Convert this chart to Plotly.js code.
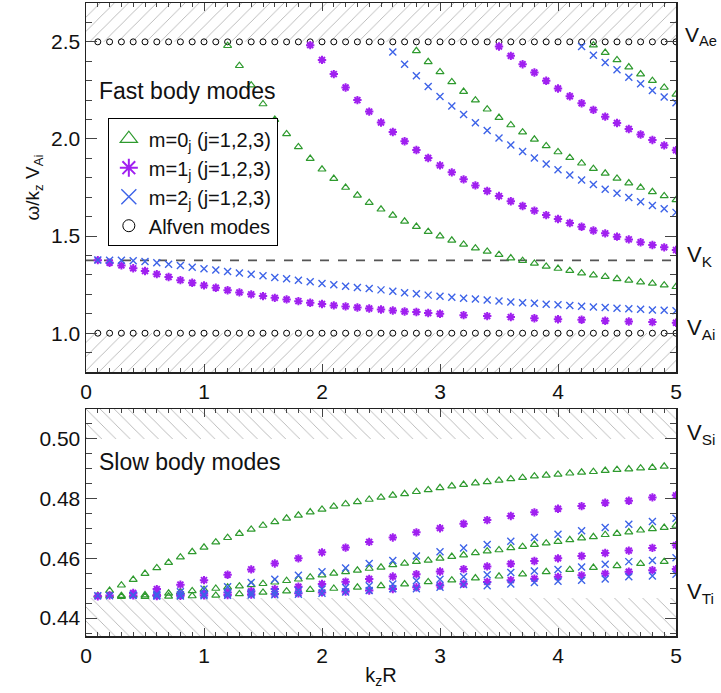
<!DOCTYPE html>
<html>
<head>
<meta charset="utf-8">
<script src="https://cdn.plot.ly/plotly-3.0.1.min.js"></script>
<style>html,body{margin:0;padding:0;background:#fff;}#chart{width:721px;height:693px;}</style>
</head>
<body>
<div id="chart"></div>
<script>
// ---------- characteristic speeds ----------
const vAe = 2.5, vAi = 1.0, vK = 1.375, vSi = 0.50, vTi = 0.4467;
const topRange = [0.8, 2.7];
const botRange = [0.434, 0.51];

// ---------- k_z R sampling ----------
const kFine = [0.1,0.2,0.3,0.4,0.5,0.6,0.7,0.8,0.9,1.0,1.1,1.2,1.3,1.4,1.5,1.6,1.7,1.8,1.9,2.0,
               2.1,2.2,2.3,2.4,2.5,2.6,2.7,2.8,2.9,3.0,3.1,3.2,3.3,3.4,3.5,3.6,3.7,3.8,3.9,4.0,
               4.1,4.2,4.3,4.4,4.5,4.6,4.7,4.8,4.9,5.0];
const kEven = [0.2,0.4,0.6,0.8,1.0,1.2,1.4,1.6,1.8,2.0,2.2,2.4,2.6,2.8,3.0,3.2,3.4,3.6,3.8,4.0,4.2,4.4,4.6,4.8,5.0];
const kOdd  = [0.1,0.3,0.5,0.7,0.9,1.1,1.3,1.5,1.7,1.9,2.1,2.3,2.5,2.7,2.9,3.1,3.3,3.5,3.7,3.9,4.1,4.3,4.5,4.7,4.9];

// ---------- fast body modes ----------
const fastM0J1 = [2.48,2.377,2.277,2.18,2.10,2.026,1.959,1.899,1.844,1.796,1.75,1.71,1.672,1.638,1.607,1.576,1.549,1.523,1.50,1.478,
                  1.457,1.438,1.421,1.404,1.387,1.373,1.359,1.344,1.333,1.322,1.309,1.299,1.291,1.280,1.272,1.263,1.256,1.247,1.239];
const fastM0J2 = [2.454,2.397,2.345,2.294,2.244,2.20,2.153,2.11,2.072,2.035,1.998,1.964,1.933,1.904,1.875,1.847,1.823,1.797,1.773,1.750,1.728,1.707,1.686];
const fastM0J3 = [2.483,2.445,2.407,2.37,2.334,2.30,2.265,2.23];

const fastM1J1k = [0.1,0.2,0.3,0.4,0.5,0.6,0.7,0.8,0.9,1.0,1.1,1.2,1.3,1.4,1.5,1.6,1.7,1.8,1.9,2.0,2.1,2.2,2.3,2.4,2.5,2.6,2.7,2.8,2.9,3.0,
                   3.2,3.4,3.6,3.8,4.0,4.2,4.4,4.6,4.8,5.0];
const fastM1J1 = [1.376,1.363,1.349,1.334,1.32,1.304,1.289,1.273,1.26,1.246,1.234,1.221,1.21,1.2,1.191,1.182,1.174,1.165,1.157,1.15,
                  1.143,1.138,1.132,1.127,1.122,1.117,1.112,1.109,1.104,1.10,1.093,1.088,1.083,1.077,1.072,1.069,1.064,1.06,1.057,1.054];
const fastM1J2 = [2.483,2.407,2.334,2.265,2.20,2.141,2.085,2.036,1.988,1.943,1.902,1.864,1.828,1.792,1.761,1.732,
                  1.706,1.679,1.655,1.631,1.608,1.588,1.567,1.548,1.529,1.514,1.497,1.483,1.468,1.454,1.442,1.428];
const fastM1J3 = [2.476,2.428,2.385,2.342,2.30,2.26,2.22,2.184,2.15,2.115,2.082,2.051,2.023,1.995,1.967,1.942];

const fastM2J1 = [1.377,1.376,1.375,1.373,1.369,1.363,1.355,1.348,1.339,1.332,1.325,1.318,1.31,1.303,1.296,1.287,1.28,1.272,1.265,1.256,
                  1.249,1.242,1.235,1.23,1.223,1.216,1.208,1.203,1.196,1.19,1.185,1.18,1.176,1.171,1.166,1.161,1.157,1.154,1.149,1.146,
                  1.142,1.139,1.135,1.132,1.128,1.126,1.123,1.12,1.118,1.115];
const fastM2J2 = [2.448,2.385,2.325,2.27,2.219,2.17,2.126,2.083,2.043,2.005,1.969,1.935,1.902,1.871,1.842,1.814,1.789,1.765,1.741,1.72,1.699,1.677,1.658,1.641,1.622];
const fastM2J3 = [2.476,2.431,2.394,2.356,2.318,2.284,2.25,2.216,2.186];

// ---------- slow body modes ----------
const slowM0J1 = [0.4476,0.4492,0.4510,0.4529,0.4549,0.4568,0.4586,0.4604,0.4622,0.4637,0.4654,0.4669,0.4683,0.4697,0.4710,0.4722,0.4734,0.4744,0.4755,0.4764,
                  0.4774,0.4782,0.4789,0.4797,0.4804,0.4811,0.4816,0.4823,0.4829,0.4836,0.4842,0.4847,0.4852,0.4856,0.4861,0.4866,0.4870,0.4875,0.4878,0.4881,
                  0.4885,0.4888,0.4890,0.4894,0.4897,0.4899,0.4902,0.4904,0.4908];
const slowM0J2 = [0.4475,0.4475,0.4476,0.4477,0.4480,0.4483,0.4487,0.4491,0.4495,0.4499,0.4503,0.4507,0.4511,0.4515,0.4520,0.4525,0.4530,0.4537,0.4544,
                  0.4550,0.4555,0.4560,0.4566,0.4570,0.4578,0.4583,0.4589,0.4593,0.4600,0.4606,0.4611,0.4618,0.4624,0.4628,0.4635,0.4639,0.4646,0.4651,0.4656,
                  0.4662,0.4668,0.4672,0.4679,0.4683,0.4688,0.4694,0.4699,0.4703,0.4710];
const slowM0J3 = [0.4472,0.4472,0.4473,0.4474,0.4476,0.4481,0.4486,0.4490,0.4495,0.4499,0.4503,0.4508,0.4514,0.4521,0.4527,0.4534,0.4540,0.4547,0.4555,0.4562,0.4569,0.4575,0.4582,0.4589];

const slowJ1k = [0.1,0.2,0.4,0.6,0.8,1.0,1.2,1.4,1.6,1.8,2.0,2.2,2.4,2.6,2.8,3.0,3.2,3.4,3.6,3.8,4.0,4.2,4.4,4.6,4.8,5.0];
const slowM1J1 = [0.4473,0.4476,0.4484,0.4497,0.4512,0.4527,0.4545,0.4563,0.4583,0.4600,0.4620,0.4636,0.4655,0.4670,0.4687,0.4701,0.4716,0.4728,0.4742,0.4754,0.4766,0.4775,0.4786,0.4793,0.4804,0.4811];
const slowM1J2 = [0.4476,0.4477,0.4479,0.4482,0.4486,0.4490,0.4497,0.4505,0.4514,0.4522,0.4531,0.4539,0.4547,0.4556,0.4564,0.4573,0.4582,0.4591,0.4600,0.4608,0.4618,0.4626,0.4635,0.4644];
const slowM1J3 = [0.4474,0.4475,0.4476,0.4477,0.4479,0.4481,0.4483,0.4486,0.4489,0.4492,0.4497,0.4503,0.4509,0.4515,0.4521,0.4527,0.4532,0.4538,0.4543,0.4549,0.4555,0.4560,0.4564];

const slowM2J1 = [0.4475,0.4475,0.4477,0.4481,0.4488,0.4497,0.4505,0.4519,0.4530,0.4543,0.4555,0.4568,0.4583,0.4593,0.4608,0.4622,0.4635,0.4646,0.4657,0.4670,0.4681,0.4692,0.4703,0.4714,0.4723,0.4734];
const slowM2J2 = [0.4476,0.4476,0.4478,0.4480,0.4482,0.4485,0.4488,0.4492,0.4497,0.4502,0.4508,0.4514,0.4525,0.4530,0.4538,0.4545,0.4553,0.4558,0.4563,0.4571,0.4580,0.4589,0.4593,0.4602];
const slowM2J3 = [0.4474,0.4474,0.4475,0.4476,0.4477,0.4478,0.4480,0.4483,0.4487,0.4492,0.4498,0.4498,0.4503,0.4512,0.4508,0.4514,0.4519,0.4523,0.4527,0.4531,0.4538,0.4541,0.4547];

// ---------- labels ----------
const legendLabels = ['m=0<sub>j</sub> (j=1,2,3)', 'm=1<sub>j</sub> (j=1,2,3)', 'm=2<sub>j</sub> (j=1,2,3)', 'Alfven modes'];

// ---------- styles ----------
const GREEN = '#2e9a2e', PURPLE = '#a020f0', BLUE = '#3d63e8', BLACK = '#000000';
const sty = {
  m0: {symbol:'triangle-up-open', size:7, color:GREEN, line:{color:GREEN, width:1.2}},
  m1: {symbol:'asterisk-open', size:7, color:PURPLE, line:{color:PURPLE, width:2}},
  m2: {symbol:'x-thin-open', size:7, color:BLUE, line:{color:BLUE, width:1.4}},
  al: {symbol:'circle-open', size:6, color:BLACK, line:{color:BLACK, width:1}}
};

function pts(x, y, m, xa, ya) {
  return {x:x, y:y, mode:'markers', type:'scatter', marker:sty[m], xaxis:xa, yaxis:ya,
          showlegend:false, hoverinfo:'x+y', cliponaxis:true};
}
function hatch(y0, y1, shape, xa, ya) {
  return {x:[0,5,5,0,0], y:[y0,y0,y1,y1,y0], type:'scatter', mode:'lines', fill:'toself',
          fillcolor:'rgba(0,0,0,0)', line:{width:0, color:'rgba(0,0,0,0)'},
          fillpattern:{shape:shape, size:10, solidity:0.09, fgcolor:'#b4b4b4', bgcolor:'#ffffff'},
          xaxis:xa, yaxis:ya, showlegend:false, hoverinfo:'skip'};
}

const traces = [
  hatch(vAe, topRange[1], '/', 'x', 'y'),
  hatch(topRange[0], vAi, '/', 'x', 'y'),
  hatch(vSi, botRange[1], '\\', 'x2', 'y2'),
  hatch(botRange[0], vTi, '\\', 'x2', 'y2'),
  {x:[0,5], y:[vK,vK], mode:'lines', type:'scatter', line:{color:'#555', width:1.6, dash:'dash'},
   xaxis:'x', yaxis:'y', showlegend:false, hoverinfo:'skip'},
  // Alfven continua
  pts(kFine, kFine.map(() => vAe), 'al', 'x', 'y'),
  pts(kFine, kFine.map(() => vAi), 'al', 'x', 'y'),
  // fast modes
  pts(kFine.slice(11), fastM0J1, 'm0', 'x', 'y'),
  pts(kFine.slice(27), fastM0J2, 'm0', 'x', 'y'),
  pts(kFine.slice(42), fastM0J3, 'm0', 'x', 'y'),
  pts(fastM1J1k, fastM1J1, 'm1', 'x', 'y'),
  pts(kFine.slice(18), fastM1J2, 'm1', 'x', 'y'),
  pts(kFine.slice(34), fastM1J3, 'm1', 'x', 'y'),
  pts(kFine, fastM2J1, 'm2', 'x', 'y'),
  pts(kFine.slice(25), fastM2J2, 'm2', 'x', 'y'),
  pts(kFine.slice(41), fastM2J3, 'm2', 'x', 'y'),
  // slow modes
  pts(kFine.slice(0,49), slowM0J1, 'm0', 'x2', 'y2'),
  pts(kFine.slice(1), slowM0J2, 'm0', 'x2', 'y2'),
  pts(kOdd.slice(1), slowM0J3, 'm0', 'x2', 'y2'),
  pts(slowJ1k, slowM1J1, 'm1', 'x2', 'y2'),
  pts(kEven.slice(1), slowM1J2, 'm1', 'x2', 'y2'),
  pts(kEven.slice(2), slowM1J3, 'm1', 'x2', 'y2'),
  pts(slowJ1k, slowM2J1, 'm2', 'x2', 'y2'),
  pts(kEven.slice(1), slowM2J2, 'm2', 'x2', 'y2'),
  pts(kEven.slice(2), slowM2J3, 'm2', 'x2', 'y2')
];

// legend-only entries (larger symbols as in the reference legend)
['m0','m1','m2','al'].forEach((m, i) => {
  const s = Object.assign({}, sty[m], {size: m === 'al' ? 12 : 15});
  traces.push({x:[null], y:[null], mode:'markers', type:'scatter', marker:s, name:legendLabels[i],
               xaxis:'x', yaxis:'y', showlegend:true, hoverinfo:'skip'});
});

const axCommon = {
  ticks:'inside', tickcolor:'#444', tickwidth:1, mirror:'allticks', showline:true,
  linecolor:'#222', linewidth:1.5, showgrid:false, zeroline:false,
  tickfont:{size:21, color:'#111'}
};

const layout = {
  width:721, height:693,
  margin:{l:86, r:45, t:3, b:57},
  paper_bgcolor:'#ffffff', plot_bgcolor:'#ffffff',
  font:{family:'Liberation Sans, Arial, Helvetica, sans-serif', size:18, color:'#111'},
  showlegend:true,
  legend:{x:0.037, y:0.818, xanchor:'left', yanchor:'top', bordercolor:'#000', borderwidth:1,
          bgcolor:'#ffffff', font:{size:20, color:'#111'}, tracegroupgap:0, itemwidth:30},
  xaxis: Object.assign({}, axCommon, {domain:[0,1], anchor:'y', range:[0,5], dtick:1, tick0:0, ticklen:8,
          minor:{dtick:0.1, ticks:'inside', ticklen:4, tickcolor:'#444'}}),
  yaxis: Object.assign({}, axCommon, {domain:[0.417,1], anchor:'x', range:topRange, dtick:0.5, tick0:0,
          tickformat:'.1f', ticklen:11, minor:{dtick:0.1, ticks:'inside', ticklen:6, tickcolor:'#444'},
          title:{text:'\u03c9/k<sub>z</sub> V<sub>Ai</sub>', font:{size:19}, standoff:6}}),
  xaxis2: Object.assign({}, axCommon, {domain:[0,1], anchor:'y2', range:[0,5], dtick:1, tick0:0, ticklen:8,
          minor:{dtick:0.1, ticks:'inside', ticklen:4, tickcolor:'#444'},
          title:{text:'k<sub>z</sub>R', font:{size:20}, standoff:2}}),
  yaxis2: Object.assign({}, axCommon, {domain:[0,0.3586], anchor:'x2', range:botRange, dtick:0.02, tick0:0,
          tickformat:'.2f', ticklen:11, minor:{dtick:0.005, ticks:'inside', ticklen:6, tickcolor:'#444'}}),
  annotations:[
    {xref:'x', yref:'y', x:0.09, y:2.246, text:'Fast body modes', showarrow:false, xanchor:'left', yanchor:'middle', font:{size:23, color:'#111'}},
    {xref:'x2', yref:'y2', x:0.09, y:0.4922, text:'Slow body modes', showarrow:false, xanchor:'left', yanchor:'middle', font:{size:23, color:'#111'}},
    {xref:'paper', yref:'y', x:1.012, y:2.53, text:'V<sub>Ae</sub>', showarrow:false, xanchor:'left', yanchor:'middle', font:{size:21, color:'#111'}},
    {xref:'paper', yref:'y', x:1.015, y:1.40, text:'V<sub>K</sub>', showarrow:false, xanchor:'left', yanchor:'middle', font:{size:22, color:'#111'}},
    {xref:'paper', yref:'y', x:1.015, y:1.02, text:'V<sub>Ai</sub>', showarrow:false, xanchor:'left', yanchor:'middle', font:{size:22, color:'#111'}},
    {xref:'paper', yref:'y2', x:1.015, y:0.5015, text:'V<sub>Si</sub>', showarrow:false, xanchor:'left', yanchor:'middle', font:{size:22, color:'#111'}},
    {xref:'paper', yref:'y2', x:1.015, y:0.4485, text:'V<sub>Ti</sub>', showarrow:false, xanchor:'left', yanchor:'middle', font:{size:22, color:'#111'}}
  ]
};

Plotly.newPlot('chart', traces, layout, {displayModeBar:false, staticPlot:true});
</script>
</body>
</html>
